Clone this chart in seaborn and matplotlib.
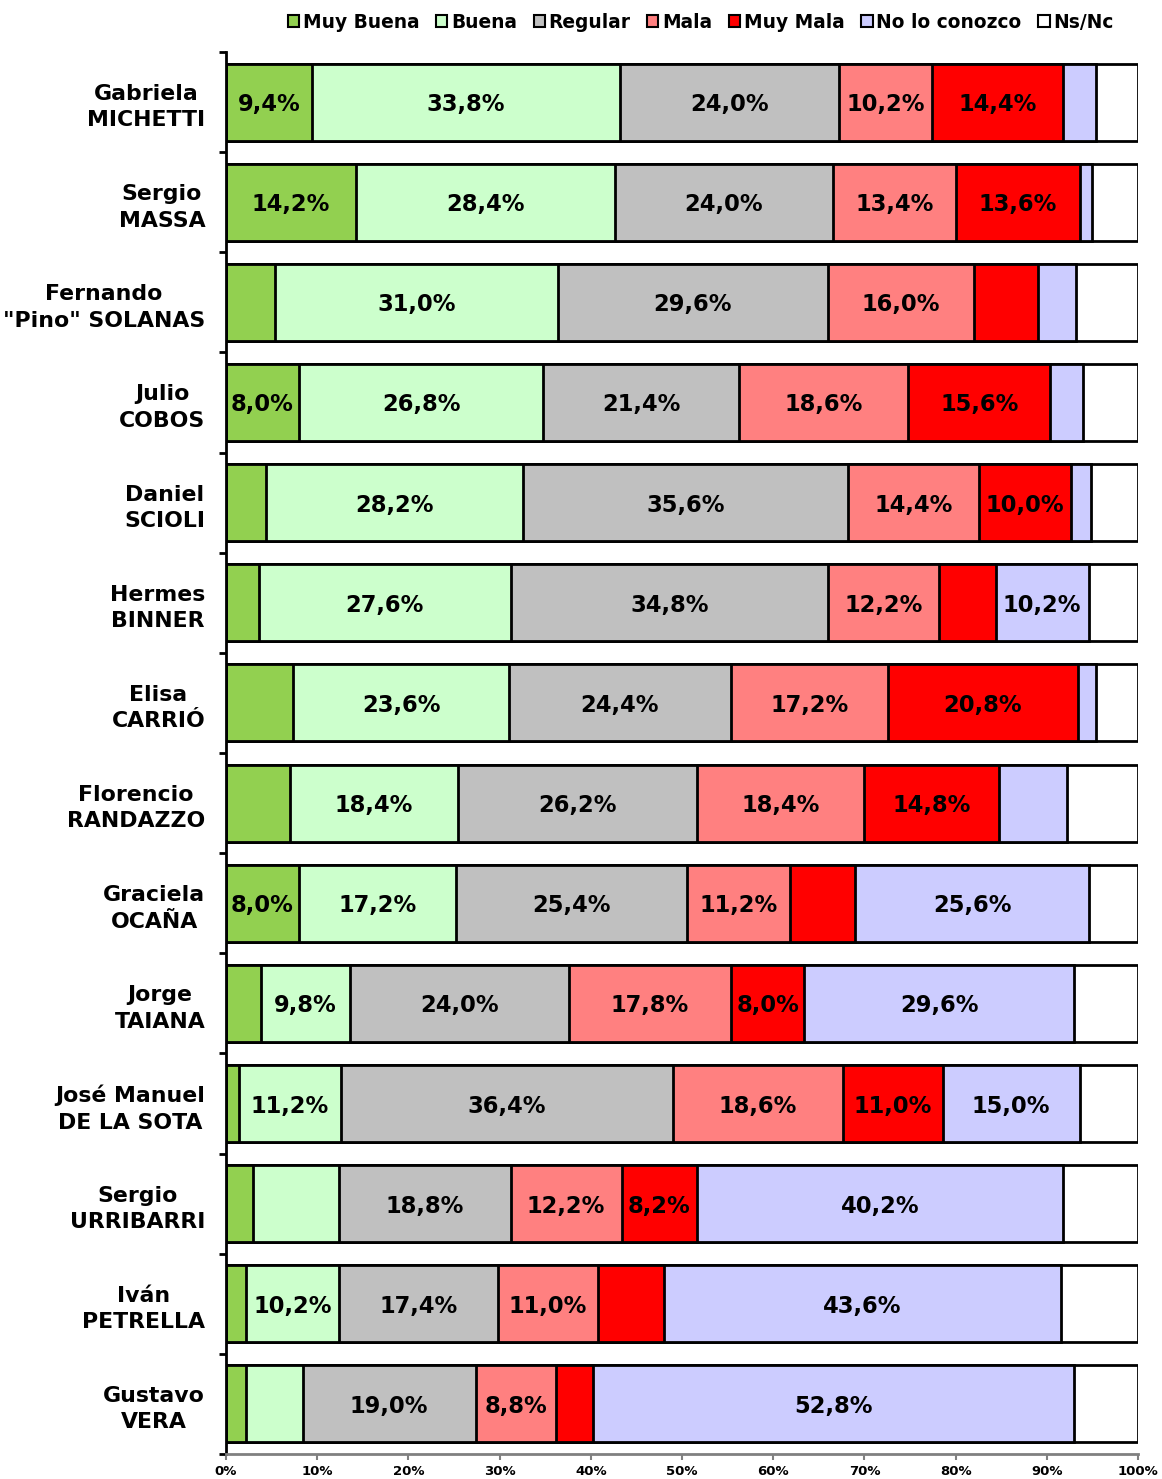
import matplotlib
matplotlib.use("Agg")
import matplotlib.pyplot as plt
import seaborn as sns
import numpy as np
from matplotlib.patches import Patch
from matplotlib.ticker import FixedLocator

candidates = [
    "Gabriela\nMICHETTI", "Sergio\nMASSA", "Fernando\n\"Pino\" SOLANAS",
    "Julio\nCOBOS", "Daniel\nSCIOLI", "Hermes\nBINNER", "Elisa\nCARRIÓ",
    "Florencio\nRANDAZZO", "Graciela\nOCAÑA", "Jorge\nTAIANA",
    "José Manuel\nDE LA SOTA", "Sergio\nURRIBARRI", "Iván\nPETRELLA",
    "Gustavo\nVERA",
]
categories = ["Muy Buena", "Buena", "Regular", "Mala", "Muy Mala",
              "No lo conozco", "Ns/Nc"]
colors = ["#92D050", "#CCFFCC", "#C0C0C0", "#FF8080", "#FF0000",
          "#CCCCFF", "#FFFFFF"]

muy_buena = [9.4, 14.2, 5.4, 8.0, 4.4, 3.6, 7.4, 7.0, 8.0, 3.8, 1.4, 3.0, 2.2, 2.2]
buena     = [33.8, 28.4, 31.0, 26.8, 28.2, 27.6, 23.6, 18.4, 17.2, 9.8, 11.2, 9.4, 10.2, 6.2]
regular   = [24.0, 24.0, 29.6, 21.4, 35.6, 34.8, 24.4, 26.2, 25.4, 24.0, 36.4, 18.8, 17.4, 19.0]
mala      = [10.2, 13.4, 16.0, 18.6, 14.4, 12.2, 17.2, 18.4, 11.2, 17.8, 18.6, 12.2, 11.0, 8.8]
muy_mala  = [14.4, 13.6, 7.0, 15.6, 10.0, 6.2, 20.8, 14.8, 7.2, 8.0, 11.0, 8.2, 7.2, 4.0]
no_conoce = [3.6, 1.4, 4.2, 3.6, 2.2, 10.2, 2.0, 7.4, 25.6, 29.6, 15.0, 40.2, 43.6, 52.8]
ns_nc     = [4.6, 5.0, 6.8, 6.0, 5.2, 5.4, 4.6, 7.8, 5.4, 7.0, 6.4, 8.2, 8.4, 7.0]

series = [muy_buena, buena, regular, mala, muy_mala, no_conoce, ns_nc]
# segments whose labels are not shown in the original (candidate index, category index)
hidden_labels = {(11, 1)}

sns.set_theme(style="white")
plt.rcParams["font.family"] = ["DejaVu Sans"]
plt.rcParams["font.weight"] = "bold"
plt.rcParams["text.color"] = "black"
plt.rcParams["xtick.color"] = "black"
plt.rcParams["ytick.color"] = "black"

fig = plt.figure(figsize=(11.62, 14.79), dpi=100)
ax = fig.add_axes([226 / 1162, 1 - 1454 / 1479, (1138 - 226) / 1162, (1454 - 52) / 1479])

data = np.array(series)
cum = np.cumsum(data, axis=0)

# draw from the full stack down so each shorter cumulative bar sits on top
for k in range(len(categories) - 1, -1, -1):
    sns.barplot(x=list(cum[k]), y=candidates, orient="h", color=colors[k],
                saturation=1, edgecolor="black", linewidth=2, width=0.77,
                errorbar=None, ax=ax)

for k in range(len(categories) - 1):
    for i in range(len(candidates)):
        v = data[k, i]
        if v >= 8.0 and (i, k) not in hidden_labels:
            left = cum[k, i] - v
            ax.text(left + v / 2, i, f"{v:.1f}".replace(".", ",") + "%",
                    ha="center", va="center_baseline", fontsize=16.3,
                    fontweight="bold", color="black")

ax.set_xlim(0, 100)
ax.set_ylim(len(candidates) - 0.5, -0.5)
ax.set_xticks(np.arange(0, 101, 10))
ax.set_xticklabels([f"{t}%" for t in range(0, 101, 10)], fontsize=9.5,
                   fontweight="bold", color="black")
ax.set_yticks(range(len(candidates)))
ax.set_yticklabels(candidates, fontsize=15.8, fontweight="bold",
                   multialignment="center", color="black", linespacing=1.4)
ax.yaxis.set_minor_locator(FixedLocator(np.arange(-0.5, len(candidates), 1.0)))
ax.tick_params(axis="y", which="major", length=0, pad=15)
ax.tick_params(axis="y", which="minor", length=5, width=2, color="black",
               direction="out", left=True)
ax.tick_params(axis="x", which="major", length=4, width=1.5, color="#808080",
               direction="out", bottom=True, pad=4)
ax.set_xlabel("")
ax.set_ylabel("")
ax.grid(False)
for s in ["top", "right"]:
    ax.spines[s].set_visible(False)
ax.spines["left"].set_color("black")
ax.spines["left"].set_linewidth(2)
ax.spines["bottom"].set_color("#808080")
ax.spines["bottom"].set_linewidth(2)

handles = [Patch(facecolor=c, edgecolor="black", linewidth=1.5) for c in colors]
leg = fig.legend(handles, categories, loc="center", bbox_to_anchor=(0.603, 0.985),
                 ncol=7, frameon=False, handlelength=0.6,
                 handleheight=0.6, handletextpad=0.2, columnspacing=0.9,
                 prop={"weight": "bold", "size": 13.4})
for t in leg.get_texts():
    t.set_color("black")

fig.savefig("out.png", dpi=100)
